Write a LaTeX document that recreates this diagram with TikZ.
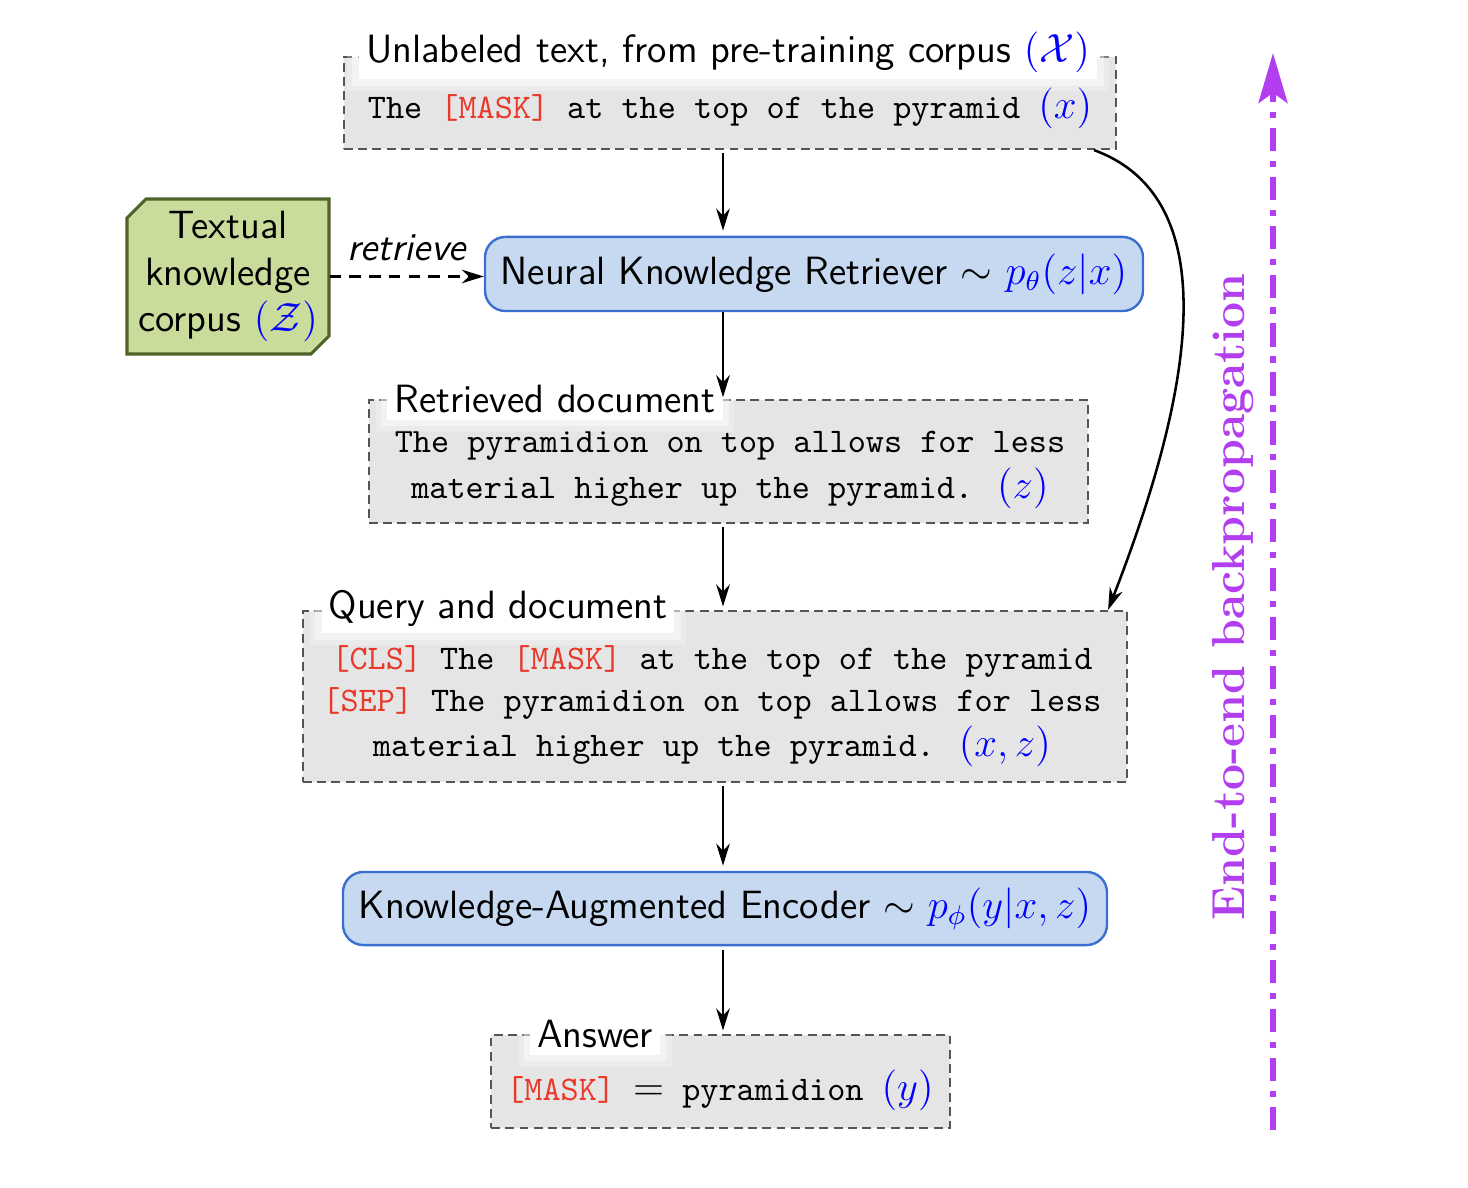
\documentclass[tikz,border=0pt]{standalone}
\usetikzlibrary{arrows.meta,calc}
\definecolor{boxgray}{HTML}{E5E5E5}
\definecolor{dashgray}{HTML}{555555}
\definecolor{tokred}{HTML}{E8392B}
\definecolor{mathblue}{HTML}{0000FF}
\definecolor{retfill}{HTML}{C6D9F1}
\definecolor{retline}{HTML}{3A6FD0}
\definecolor{greenfill}{HTML}{CADC9C}
\definecolor{greenline}{HTML}{4F6228}
\definecolor{bpurple}{RGB}{178,62,240}
\newcommand{\mysf}{\sffamily\fontsize{11.6}{13.7}\selectfont}
\newcommand{\mytt}{\ttfamily\fontsize{10.15}{13.5}\selectfont}
\newcommand{\tok}[1]{\textcolor{tokred}{#1}}
\newcommand{\mb}[1]{\textcolor{mathblue}{$#1$}}
\newcommand{\mbb}[1]{\textcolor{mathblue}{\fontsize{12.3}{13.5}\selectfont$#1$}}
\begin{document}
\begin{tikzpicture}[x=0.2941pt,y=-0.2941pt,
  databox/.style={draw=dashgray, fill=boxgray, line width=0.6pt, dash pattern=on 2.6pt off 1.6pt, rectangle, inner sep=0pt},
  ttlbox/.style={fill=white, inner sep=2pt, font=\mysf,
    preaction={draw=white, line width=7pt, opacity=0.25},
    preaction={draw=white, line width=4pt, opacity=0.4}},
  modelbox/.style={draw=retline, fill=retfill, line width=0.7pt, rounded corners=6pt, inner sep=0pt, font=\mysf},
  flow/.style={-{Stealth[length=6.5pt,width=4pt]}, line width=0.75pt},
  body/.style={font=\mytt, align=center, inner sep=0pt}
]
\useasboundingbox (0,0) rectangle (1468,1188);

% source text
\node[databox, minimum width=227.1pt, minimum height=27.1pt] (src) at (730,103) {};
\node[body] (srctxt) at (730,108) {The \tok{[MASK]} at the top of the pyramid \mbb{(x)}};
\node[ttlbox] (srcttl) at (728,52) {Unlabeled text, from pre-training corpus \mb{(\mathcal{X})}};

% knowledge corpus
\draw[draw=greenline, fill=greenfill, line width=0.9pt] (146,199) -- (329,199) -- (329,336) -- (311,354) -- (127,354) -- (127,218) -- cycle;
\node[minimum width=59.4pt, minimum height=45.6pt, align=center, inner sep=0pt, font=\mysf] (corpus) at (228,276.5) {Textual\\knowledge\\corpus \mb{(\mathcal{Z})}};

% retriever
\node[modelbox, minimum width=193.5pt, minimum height=21.8pt] (ret) at (814,274) {Neural Knowledge Retriever $\sim$ \mb{p_\theta(z|x)}};

% retrieved doc
\node[databox, minimum width=211.5pt, minimum height=36.2pt] (doc) at (728.5,461.5) {};
\node[body] (doctxt) at (730,470) {The pyramidion on top allows for less\\material higher up the pyramid. \mbb{(z)}};
\node[ttlbox] (docttl) at (555,399) {Retrieved document};

% query and document
\node[databox, minimum width=242.4pt, minimum height=50.3pt] (qry) at (715,696.5) {};
\node[body, font=\ttfamily\fontsize{10.15}{12.4}\selectfont] (qrytxt) at (712,706) {\tok{[CLS]} The \tok{[MASK]} at the top of the pyramid\\\tok{[SEP]} The pyramidion on top allows for less\\[0.6pt]material higher up the pyramid. \mbb{(x,z)}};
\node[ttlbox] (qryttl) at (498,608) {Query and document};

% encoder
\node[modelbox, minimum width=224.7pt, minimum height=21.5pt] (enc) at (725,908.5) {Knowledge-Augmented Encoder $\sim$ \mb{p_\phi(y|x,z)}};

% answer
\node[databox, minimum width=135pt, minimum height=27.4pt] (ans) at (720.5,1081.5) {};
\node[body] (anstxt) at (720,1090) {\tok{[MASK]} \mbb{\color{black}=} pyramidion \mbb{(y)}};
\node[ttlbox] (ansttl) at (595,1034) {Answer};

% flow arrows
\coordinate (ax) at (723,0);
\draw[flow, shorten <=1pt, shorten >=1.5pt] (src.south -| ax) -- (ret.north -| ax);
\draw[flow, shorten >=0.5pt] (ret.south -| ax) -- (doc.north -| ax);
\draw[flow, shorten <=1pt, shorten >=1pt] (doc.south -| ax) -- (qry.north -| ax);
\draw[flow, shorten <=1pt, shorten >=1.5pt] (qry.south -| ax) -- (enc.north -| ax);
\draw[flow, shorten <=1pt, shorten >=1pt] (enc.south -| ax) -- (ans.north -| ax);

% retrieve
\draw[flow, line width=0.75pt, dash pattern=on 3.4pt off 2.4pt] (corpus.east) -- (corpus.east -| ret.west)
  node[midway, above=1pt, font=\mysf\itshape] (retlbl) {retrieve};

% curved arrow
\draw[flow] ([xshift=-6.8pt]src.south east) .. controls (1230,200) and (1190,400) .. ([xshift=-5.9pt]qry.north east);

% backprop
\coordinate (bpbot) at (1273,1130);
\coordinate (bptop) at (1273,53);
\draw[bpurple, line width=1.7pt, dash pattern=on 6.8pt off 2.9pt on 1.8pt off 2.9pt,
  -{Stealth[length=14.7pt,width=8.5pt,inset=3pt]}] (bpbot) -- (bptop);
\node[rotate=90, text=bpurple, font=\bfseries\fontsize{13.6}{16}\selectfont, inner sep=0pt] (bplabel) at (1233,597) {End-to-end backpropagation};
\end{tikzpicture}
\end{document}
